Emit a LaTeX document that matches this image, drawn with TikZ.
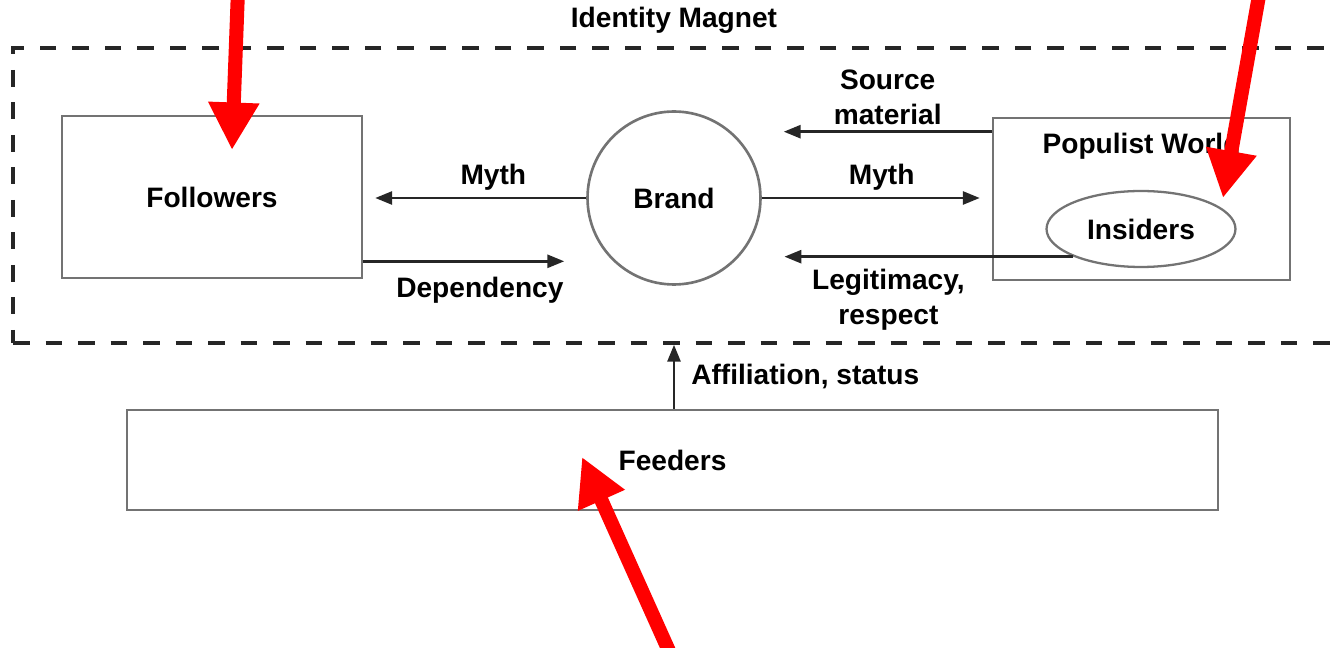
\documentclass[tikz,border=0pt]{standalone}
\usepackage{fontspec}
\setmainfont{Liberation Sans}
\usetikzlibrary{arrows.meta,shapes.geometric}

\tikzset{
  lbl/.style={font=\fontsize{16}{20}\selectfont\bfseries,align=center},
  box/.style={draw=black!55,line width=1.5pt,minimum width=6cm,minimum height=3.24cm},
  flow/.style={draw=black!85,line width=1.6pt,-{Triangle[length=0.34cm,width=0.26cm]}},
  note/.style={draw=red,line width=8pt,-{Triangle[length=0.95cm,width=0.96cm,fill=red]}}
}

\begin{document}
\begin{tikzpicture}[x=0.02cm,y=-0.02cm,every node/.style={lbl}]
\useasboundingbox (0,0) rectangle (1336,648);
\clip (0,0) rectangle (1336,648);

\node[box] (fol) at (212,197) {Followers};
\node[circle,draw=black!55,line width=1.5pt,minimum size=3.46cm] (brand) at (674,198) {Brand};
\node[box,minimum width=5.94cm] (pop) at (1141.5,199) {};
\node (popl) at ([yshift=-0.6cm]pop.north) {Populist World};
\node[ellipse,draw=black!55,line width=1.3pt,minimum width=3.78cm,minimum height=1.52cm,inner sep=0] (ins) at (1141,229) {Insiders};
\node[box,minimum width=21.82cm,minimum height=2cm] (feed) at (672.5,460) {Feeders};

\node[draw=black!85,line width=2pt,dash pattern=on 9.5pt off 9pt,minimum width=26.74cm,minimum height=5.9cm,inner sep=0] (magnet) at (681.5,195.5) {};
\node (title) at ([yshift=0.52cm]magnet.north -| brand.north) {Identity Magnet};

\draw[flow] ([yshift=-0.3cm]pop.north west) -- +(-208,0) node[midway,above] {Source\\material};
\draw[flow] (brand.east) -- +(218,0) node[pos=0.55,above] {Myth};
\draw[flow] (ins.south west) -- +(-289,0) node[pos=0.64,below=3pt] {Legitimacy,\\respect};
\draw[flow] (brand.west) -- +(-211,0) node[pos=0.44,above] {Myth};
\draw[flow] ([yshift=0.36cm]fol.south east) -- +(201,0) node[pos=0.58,below=5pt] {Dependency};
\draw[flow] (feed.north -| brand.south) -- (magnet.south -| brand.south) node[midway,right,xshift=0.2cm] {Affiliation, status};

\coordinate (n1) at (238,-10);
\coordinate (t1) at (232,150);
\coordinate (n2) at (1260,-10);
\coordinate (t2) at (1223,198);
\coordinate (n3) at (673,660);
\coordinate (t3) at (582,457);
\draw[note] (n1) -- (t1);
\draw[note] (n2) -- (t2);
\draw[note] (n3) -- (t3);

\end{tikzpicture}
\end{document}
